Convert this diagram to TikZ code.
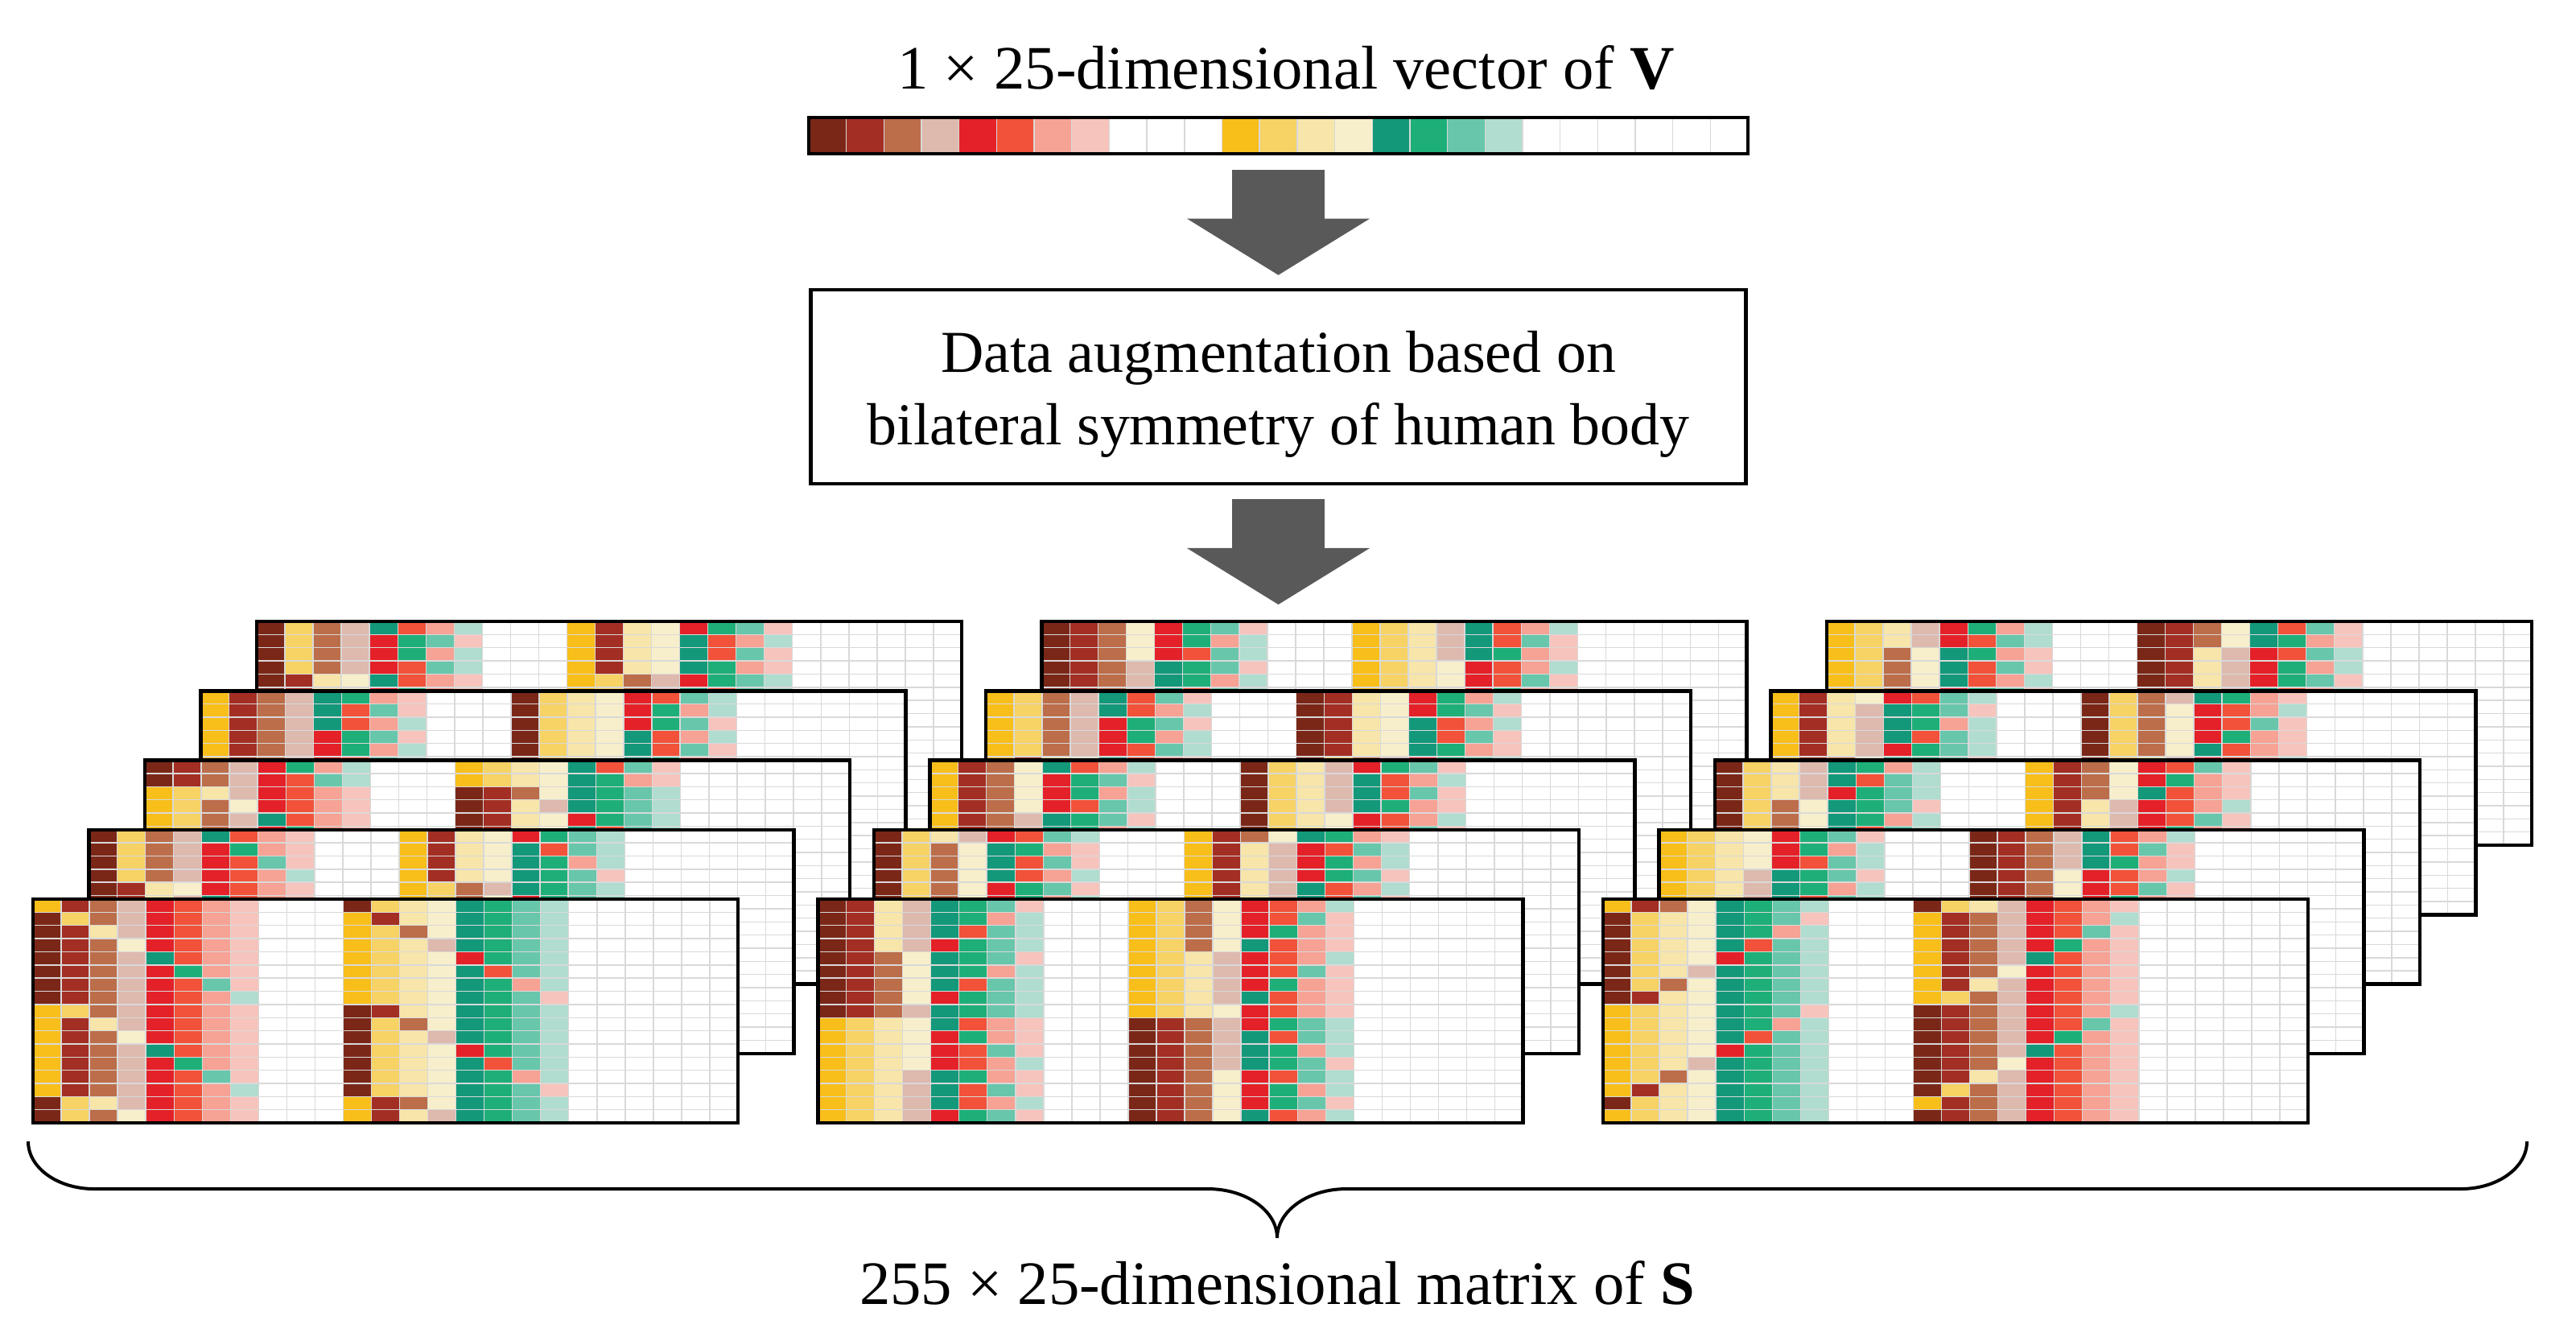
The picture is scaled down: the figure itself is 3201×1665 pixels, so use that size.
\documentclass[tikz,border=0pt]{standalone}
\usepackage{fontspec}
\setmainfont{Liberation Serif}
\usepackage{tikz}
\usetikzlibrary{arrows.meta,calc}

\definecolor{cl1}{HTML}{7B2718}
\definecolor{cl2}{HTML}{A32E23}
\definecolor{cl3}{HTML}{BC6D4A}
\definecolor{cl4}{HTML}{DEB9AE}
\definecolor{cl5}{HTML}{E42128}
\definecolor{cl6}{HTML}{F15239}
\definecolor{cl7}{HTML}{F6A294}
\definecolor{cl8}{HTML}{F6C4BC}
\definecolor{cr1}{HTML}{F8BE1A}
\definecolor{cr2}{HTML}{F7D264}
\definecolor{cr3}{HTML}{F7E5AA}
\definecolor{cr4}{HTML}{F7EFCB}
\definecolor{cr5}{HTML}{13987A}
\definecolor{cr6}{HTML}{1EAF78}
\definecolor{cr7}{HTML}{68C6AB}
\definecolor{cr8}{HTML}{B0DDD0}
\definecolor{gridgray}{HTML}{D9D9D9}
\definecolor{arrowgray}{HTML}{595959}

% rows of S: every non-empty set of left/right swaps, by size
\newcount\rowno \newcount\kset \newcount\mval \newcount\bitsleft \newcount\ones
\def\countones{\ones=0 \bitsleft=\mval \onesloop}
\def\onesloop{\ifnum\bitsleft>0 \ifodd\bitsleft\advance\ones by 1 \fi
  \divide\bitsleft by 2 \expandafter\onesloop\fi}
\def\masksweep{\ifnum\mval>0 \countones
  \ifnum\ones=\kset \advance\rowno by 1
    \expandafter\edef\csname rm\the\rowno\endcsname{\the\mval}\fi
  \advance\mval by -1 \expandafter\masksweep\fi}
\def\setsweep{\ifnum\kset<9 \mval=255 \masksweep
  \advance\kset by 1 \expandafter\setsweep\fi}
\rowno=0 \kset=1 \setsweep

\tikzset{
  cellline/.style={draw=gridgray, line width=0.4pt},
  mframe/.style={draw=black, line width=0.045cm},
  vframe/.style={draw=black, line width=0.04cm, inner sep=0pt,
    minimum width=11.67cm, minimum height=0.45cm},
  procbox/.style={draw=black, line width=0.045cm, align=center,
    minimum width=11.61cm, minimum height=2.41cm,
    font=\fontsize{21pt}{25.6pt}\selectfont},
  caption/.style={anchor=base, font=\fontsize{21.8pt}{26pt}\selectfont},
  blockarrow/.style={draw=arrowgray, line width=1.14cm,
    -{Triangle[length=0.7cm, width=2.27cm, line width=0pt]}},
  bracepath/.style={draw=black, line width=0.04cm}
}

% x, y, cell width, cell height, swap mask
\newcommand{\cellrow}[5]{%
  \foreach \i in {1,...,8}{
    \pgfmathtruncatemacro{\swp}{mod(floor(#5/2^(8-\i)),2)}
    \ifnum\swp=1 \edef\ca{cr\i}\edef\cb{cl\i}\else\edef\ca{cl\i}\edef\cb{cr\i}\fi
    \draw[cellline, fill=\ca] ({#1+(\i-1)*#3},{#2}) rectangle ++(#3,#4);
    \draw[cellline, fill=\cb] ({#1+(\i+10)*#3},{#2}) rectangle ++(#3,#4);
  }}

% x, y, number of the matrix
\newcommand{\symmat}[3]{%
  \fill[white] (#1,#2) rectangle ++(876,278);
  \foreach \c in {1,...,24} \draw[cellline] ({#1+\c*35.04},#2) -- ++(0,278);
  \foreach \r in {1,...,16} \draw[cellline] (#1,{#2+\r*16.353}) -- ++(876,0);
  \foreach \r in {1,...,17}{
    \pgfmathtruncatemacro{\g}{(#3-1)*17+\r}
    \edef\msk{\csname rm\g\endcsname}
    \cellrow{#1}{#2+(\r-1)*16.353}{35.04}{16.353}{\msk}
  }
  \draw[mframe] (#1,#2) rectangle ++(876,278);
}

\begin{document}
\begin{tikzpicture}[x=0.01cm, y=-0.01cm]
\useasboundingbox (0,0) rectangle (3201,1665);

\node[caption] (vtitle) at (1598,110) {1 × 25-dimensional vector of \textbf{V}};

\foreach \c in {0,...,24} \draw[cellline] ({1005+\c*46.68},146) rectangle ++(46.68,45);
\cellrow{1005}{146}{46.68}{45}{0}
\node[vframe] (vbar) at (1588.5,168.5) {};

\node[procbox] (augbox) at (1588.5,480.5) {\rule{0pt}{0.7cm}Data augmentation based on\\bilateral symmetry of human body};

\coordinate (stacktop) at (1588.5,751);
\draw[blockarrow] ($(vbar.south)+(0,18)$) -- ($(augbox.north)+(0,-16)$);
\draw[blockarrow] ($(augbox.south)+(0,17)$) -- (stacktop);

\foreach \sx/\first/\dir in {41/1/1, 1016.5/10/-1, 1992/15/-1}
  \foreach \d in {4,3,2,1,0}{
    \pgfmathsetmacro{\mx}{\sx+\d*69.5}
    \pgfmathsetmacro{\my}{1117-\d*86.25}
    \pgfmathtruncatemacro{\mn}{\first+\dir*\d}
    \symmat{\mx}{\my}{\mn}
  }

\draw[bracepath] (35,1418) .. controls (35,1451) and (72,1477) .. (117,1477)
  -- (1501,1477) .. controls (1548,1477) and (1587,1504) .. (1587,1538)
  .. controls (1587,1504) and (1626,1477) .. (1673,1477)
  -- (3058,1477) .. controls (3103,1477) and (3140,1451) .. (3140,1418);

\node[caption] (smat) at (1587,1620) {255 × 25-dimensional matrix of \textbf{S}};
\end{tikzpicture}
\end{document}
